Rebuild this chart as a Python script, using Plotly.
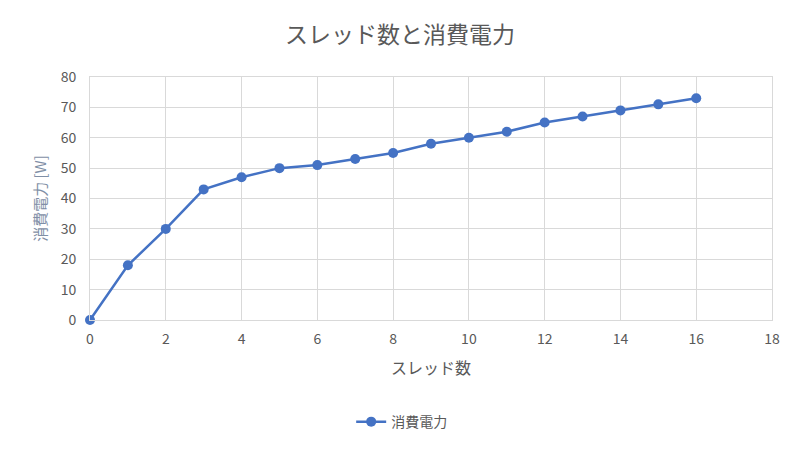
import plotly.graph_objects as go

threads = [0, 1, 2, 3, 4, 5, 6, 7, 8, 9, 10, 11, 12, 13, 14, 15, 16]
power = [0, 18, 30, 43, 47, 50, 51, 53, 55, 58, 60, 62, 65, 67, 69, 71, 73]

title_text = "スレッド数と消費電力"
x_title = "スレッド数"
y_title = "消費電力 [W]"
series_name = "消費電力"

FONT = "Noto Sans CJK JP"
GRAY = "#595959"
BLUE = "#4472C4"

fig = go.Figure()
fig.add_trace(go.Scatter(
    x=threads, y=power, name=series_name, mode="lines+markers",
    line=dict(color=BLUE, width=2.5),
    marker=dict(color=BLUE, size=10),
    cliponaxis=False,
))

fig.update_layout(
    width=800, height=450,
    paper_bgcolor="white", plot_bgcolor="white",
    margin=dict(l=82, r=36, t=69, b=138),
    font=dict(family=FONT, color=GRAY, size=14),
    title=dict(text=title_text, x=0.49, xanchor="center", y=0.94, yanchor="middle",
               font=dict(family=FONT, size=23, color=GRAY)),
    showlegend=True,
    legend=dict(orientation="h", x=0.457, xanchor="center", y=-0.42, yanchor="middle",
                font=dict(family=FONT, size=14, color=GRAY)),
    xaxis=dict(
        range=[0, 18], dtick=2, tick0=0,
        showgrid=True, gridcolor="#D9D9D9", gridwidth=1,
        zeroline=False, showline=True, linecolor="#D9D9D9", mirror=True,
        ticks="", tickfont=dict(size=14, color=GRAY), ticklabelstandoff=6,
        title=dict(text=x_title, font=dict(size=16, color=GRAY), standoff=16),
    ),
    yaxis=dict(
        range=[0, 80], dtick=10, tick0=0,
        showgrid=True, gridcolor="#D9D9D9", gridwidth=1,
        zeroline=False, showline=True, linecolor="#D9D9D9", mirror=True,
        ticks="", tickfont=dict(size=14, color=GRAY), ticklabelstandoff=10,
        title=dict(text=y_title, font=dict(size=15, color="#7F8FA6"), standoff=10),
    ),
)

fig.write_html("out.html")
